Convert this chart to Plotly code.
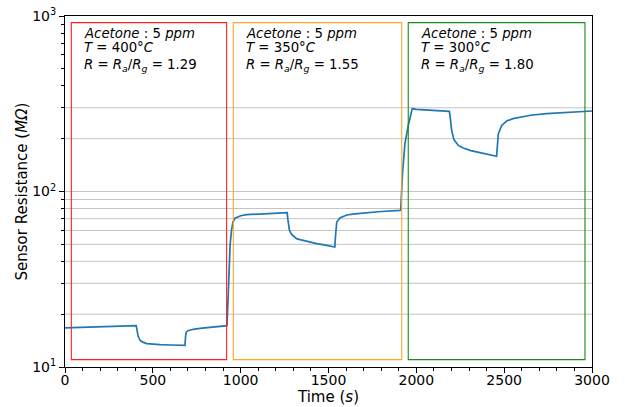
import plotly.graph_objects as go

# ---- data ----
time_s = [0, 100, 200, 300, 380, 405, 410, 416, 427, 440, 465, 500, 541, 600, 683, 686, 690, 700, 730, 768, 830, 880, 922,
          928, 933, 940, 948, 956, 968, 985, 1000, 1034, 1100, 1200, 1265, 1268, 1272, 1278, 1290, 1305, 1318, 1338, 1380, 1433, 1490, 1536,
          1540, 1547, 1565, 1604, 1650, 1717, 1800, 1907,
          1911, 1922, 1935, 1955, 1977, 2000, 2078, 2140, 2188, 2195, 2201, 2214, 2239, 2267, 2310, 2362, 2410, 2457,
          2462, 2467, 2486, 2514, 2550, 2590, 2650, 2742, 2850, 2930, 3000]
resistance = [16.7, 16.8, 16.9, 17.0, 17.1, 17.2, 16.3, 15.0, 14.2, 13.9, 13.6, 13.5, 13.4, 13.35, 13.3, 14.8, 15.8, 16.1, 16.4, 16.6, 16.9, 17.1, 17.2,
              24, 36, 50, 60, 67, 70.5, 72, 72.8, 73.8, 74.3, 75.2, 75.8, 70, 64, 60, 57, 55, 53.9, 53.2, 51.8, 50.5, 49.3, 48.3,
              56, 67, 70.6, 73.5, 74.6, 75.8, 76.9, 78.1,
              78.5, 130, 187.5, 240, 296.8, 294, 290, 288, 286, 254, 223, 197.6, 183, 177, 171, 166.6, 162.5, 158.7,
              185, 213.8, 238, 252, 260, 265.8, 272, 277.9, 282.5, 285.5, 287.5]

box_starts = [36, 958, 1954]
box_ends = [920, 1917, 2960]
box_colors = ["#ff2020", "#ffa726", "#1a8a1a"]
temperatures = [400, 350, 300]
ratios = ["1.29", "1.55", "1.80"]

y_major = [10, 100, 1000]
y_major_text = ["10<sup>1</sup>", "10<sup>2</sup>", "10<sup>3</sup>"]
y_minor = [20, 30, 40, 50, 60, 70, 80, 90, 200, 300, 400, 500, 600, 700, 800, 900]
grid_vals = [20, 30, 40, 50, 60, 70, 80, 90, 100, 200, 300]
x_ticks = [0, 500, 1000, 1500, 2000, 2500, 3000]

FONT = "DejaVu Sans"

fig = go.Figure()

# gridlines (only some levels, as in reference)
for g in grid_vals:
    fig.add_shape(type="line", xref="paper", yref="y", x0=0, x1=1, y0=g, y1=g,
                  line=dict(color="#c4c4c4", width=1), layer="below")

fig.add_trace(go.Scatter(x=time_s, y=resistance, mode="lines",
                         line=dict(color="#1f77b4", width=1.7), showlegend=False))

for s, e, c, t, r in zip(box_starts, box_ends, box_colors, temperatures, ratios):
    fig.add_shape(type="rect", xref="x", yref="paper", x0=s, x1=e, y0=0.021, y1=0.981,
                  line=dict(color=c, width=1.1), fillcolor="rgba(0,0,0,0)")
    tx = s + 62
    fig.add_annotation(x=tx, xref="x", y=0.950, yref="paper", xanchor="left", yanchor="middle",
                       text="<i>Acetone</i> : 5 <i>ppm</i>", showarrow=False,
                       font=dict(family=FONT, size=13.3, color="black"))
    fig.add_annotation(x=tx, xref="x", y=0.910, yref="paper", xanchor="left", yanchor="middle",
                       text="<i>T</i> = %d°<i>C</i>" % t, showarrow=False,
                       font=dict(family=FONT, size=13.3, color="black"))
    fig.add_annotation(x=tx, xref="x", y=0.858, yref="paper", xanchor="left", yanchor="middle",
                       text="<i>R</i> = <i>R<sub>a</sub></i>/<i>R<sub>g</sub></i> = %s" % r, showarrow=False,
                       font=dict(family=FONT, size=13.3, color="black"))

fig.update_layout(
    width=625, height=407,
    margin=dict(l=65, r=33, t=16, b=40, autoexpand=False),
    paper_bgcolor="white", plot_bgcolor="white",
    font=dict(family=FONT, size=14, color="black"),
    xaxis=dict(range=[0, 3000], tickvals=x_ticks, ticks="outside", ticklen=5, tickwidth=1,
               tickcolor="black", showline=True, linecolor="black", linewidth=1, mirror=True,
               showgrid=False, zeroline=False, ticklabelstandoff=-5,
               minor=dict(dtick=100, ticks="outside", ticklen=3, tickcolor="black", showgrid=False),
               title=dict(text="Time (<i>s</i>)", font=dict(size=15), standoff=2),
               tickfont=dict(size=14), automargin=False),
    yaxis=dict(type="log", range=[1, 3], tickvals=y_major, ticktext=y_major_text,
               ticks="outside", ticklen=5, tickwidth=1, tickcolor="black",
               showline=True, linecolor="black", linewidth=1, mirror=True,
               showgrid=False, zeroline=False,
               minor=dict(tickvals=y_minor, ticks="outside", ticklen=3, tickcolor="black", showgrid=False),
               title=dict(text="Sensor Resistance (<i>MΩ</i>)", font=dict(size=15), standoff=0),
               tickfont=dict(size=14), automargin=False),
)

fig.write_html("out.html", config={"displayModeBar": False},
               post_script="document.body.style.margin='0px';")
